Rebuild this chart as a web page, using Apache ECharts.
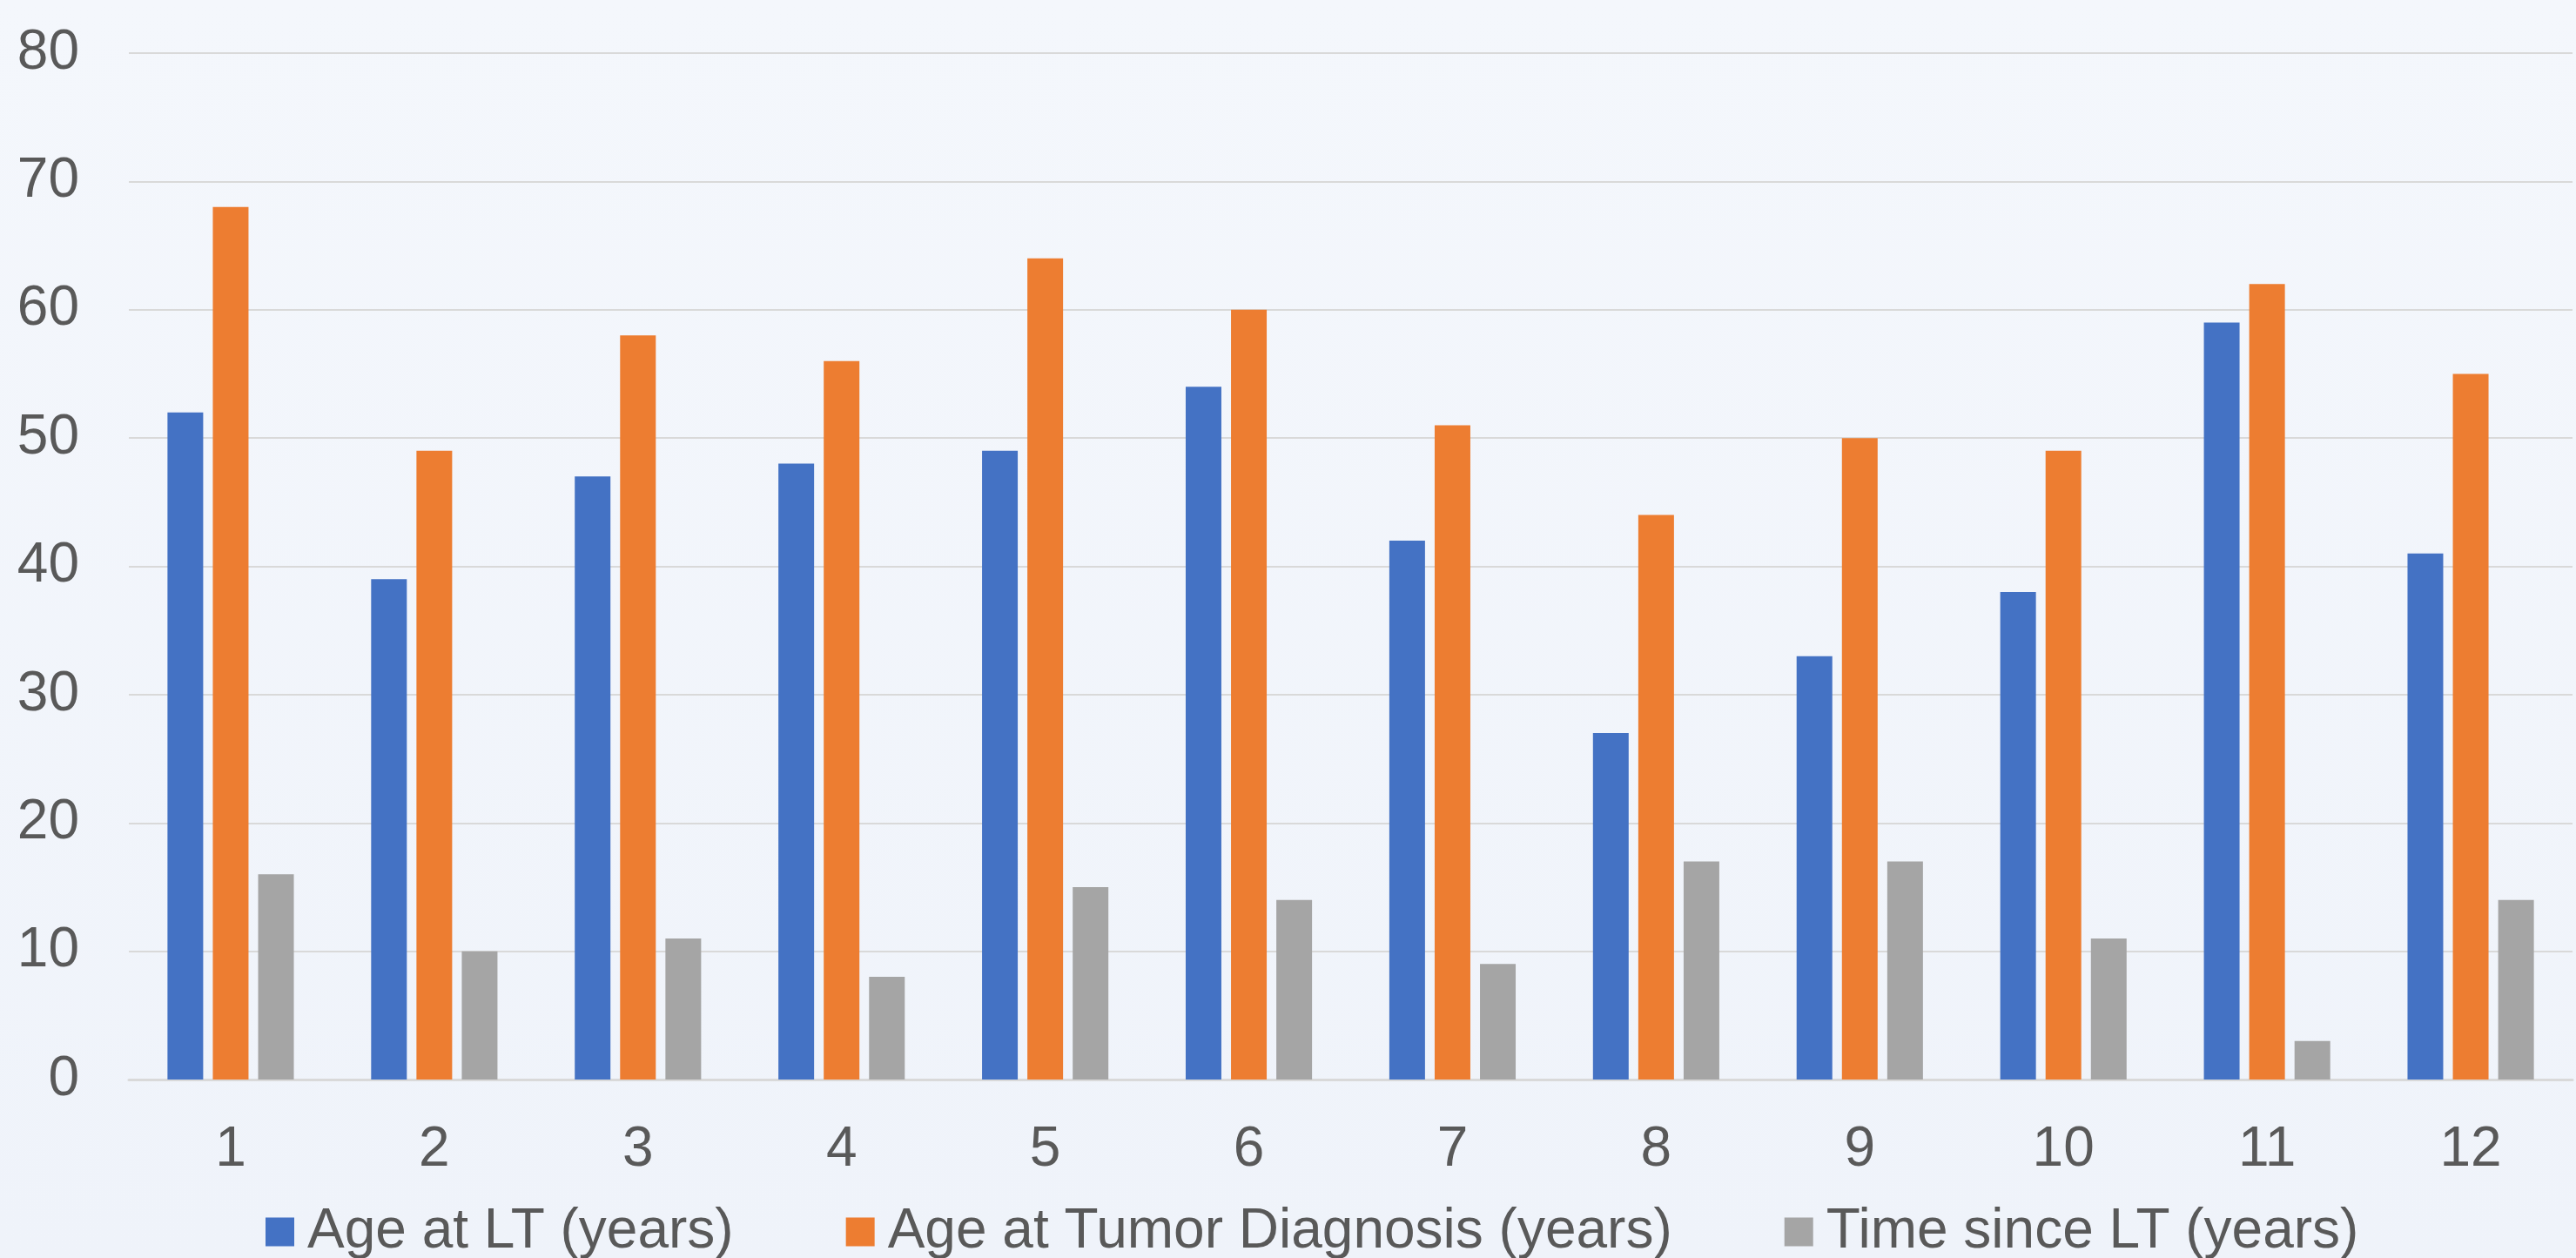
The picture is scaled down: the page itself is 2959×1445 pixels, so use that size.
<!DOCTYPE html>
<html>
<head>
<meta charset="utf-8">
<script src="https://cdn.jsdelivr.net/npm/echarts@6/dist/echarts.min.js"></script>
<style>
html,body{margin:0;padding:0;}
#c{width:2959px;height:1445px;}
</style>
</head>
<body>
<div id="c"></div>
<script>
var categories = ['1','2','3','4','5','6','7','8','9','10','11','12'];
var ageAtLT = [52,39,47,48,49,54,42,27,33,38,59,41];
var ageAtDiagnosis = [68,49,58,56,64,60,51,44,50,49,62,55];
var timeSinceLT = [16,10,11,8,15,14,9,17,17,11,3,14];
var seriesNames = ['Age at LT (years)','Age at Tumor Diagnosis (years)','Time since LT (years)'];
var yTicks = {min:0, max:80, interval:10};

var chart = echarts.init(document.getElementById('c'), null, {renderer:'canvas'});
var font = 'Liberation Sans, Arial, sans-serif';
var txt = '#595959';
chart.setOption({
  animation:false,
  backgroundColor:{type:'linear',x:0,y:0,x2:0,y2:1,colorStops:[{offset:0,color:'#F4F7FC'},{offset:1,color:'#EFF3FA'}]},
  grid:{left:148,right:4,top:61,bottom:205,containLabel:false},
  legend:{
    data:seriesNames,
    left:305, top:1382, padding:0,
    itemWidth:33, itemHeight:33, itemGap:129,
    icon:'rect',
    textStyle:{fontFamily:font,fontSize:64,lineHeight:66,color:txt,padding:[0,0,0,10]}
  },
  xAxis:{
    type:'category', data:categories,
    axisLine:{show:true,lineStyle:{color:'#D9D9D9',width:3}},
    axisTick:{show:false},
    axisLabel:{fontFamily:font,fontSize:64,color:txt,margin:49}
  },
  yAxis:{
    type:'value', min:yTicks.min, max:yTicks.max, interval:yTicks.interval,
    axisLine:{show:false}, axisTick:{show:false},
    splitLine:{lineStyle:{color:'#D9D9D9',width:2}},
    axisLabel:{fontFamily:font,fontSize:64,color:txt,margin:57}
  },
  series:[
    {name:seriesNames[0],type:'bar',data:ageAtLT,barWidth:41,barGap:'27%',itemStyle:{color:'#4472C4'}},
    {name:seriesNames[1],type:'bar',data:ageAtDiagnosis,barWidth:41,barGap:'27%',itemStyle:{color:'#ED7D31'}},
    {name:seriesNames[2],type:'bar',data:timeSinceLT,barWidth:41,barGap:'27%',itemStyle:{color:'#A5A5A5'}}
  ]
});
</script>
</body>
</html>
